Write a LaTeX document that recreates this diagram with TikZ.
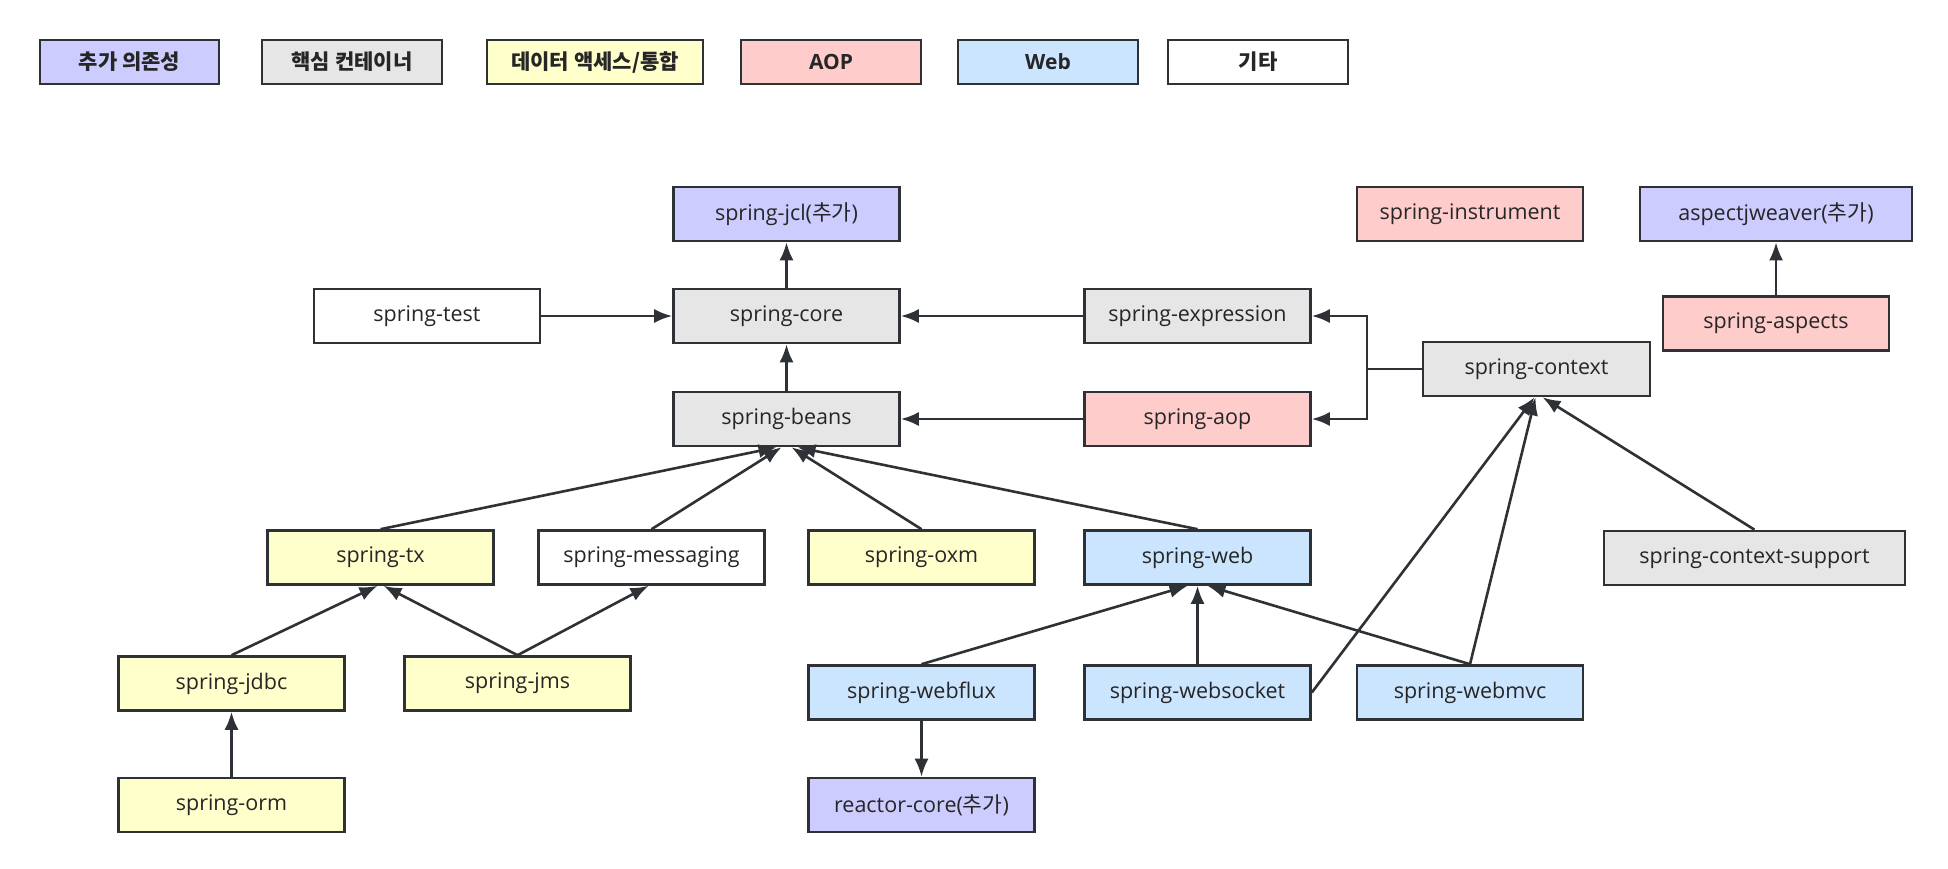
\documentclass[tikz,border=0pt]{standalone}
\usepackage{fontspec}
\setmainfont{Open Sans}
\newfontfamily\kr{Noto Sans CJK KR}
\usetikzlibrary{arrows.meta}
\definecolor{cpurple}{HTML}{CCCCFF}
\definecolor{cgray}{HTML}{E6E6E6}
\definecolor{cyellow}{HTML}{FFFFCC}
\definecolor{cpink}{HTML}{FFCCCC}
\definecolor{cblue}{HTML}{CCE5FF}
\definecolor{cline}{HTML}{2E3236}
\definecolor{ctext}{HTML}{262626}
\tikzset{
  box/.style={draw=cline, line width=2.6pt, minimum width=226pt, minimum height=54pt,
    inner sep=0pt, text=ctext, font=\fontsize{21.5}{24}\selectfont},
  leg/.style={draw=cline, line width=1.8pt, minimum width=180pt, minimum height=44pt,
    inner sep=0pt, text=ctext, font=\fontsize{21}{24}\selectfont\bfseries},
  arr/.style={draw=cline, line width=2.6pt, -{Latex[length=18pt,width=14pt]}},
  ln/.style={draw=cline, line width=2.6pt},
}
\begin{document}
\begin{tikzpicture}[x=1pt,y=-1pt]
\useasboundingbox (0,0) rectangle (1948,868);
\fill[white] (0,0) rectangle (1948,868);
% legend
\node[leg, fill=cpurple, minimum width=179pt] (l1) at (129.5,62) {\kr 추가 의존성};
\node[leg, fill=cgray] (l2) at (352,62) {\kr 핵심 컨테이너};
\node[leg, fill=cyellow, minimum width=216pt] (l3) at (595,62) {\kr 데이터 액세스/통합};
\node[leg, fill=cpink] (l4) at (831,62) {AOP};
\node[leg, fill=cblue] (l5) at (1048,62) {Web};
\node[leg, fill=white] (l6) at (1258,62) {\kr 기타};
% nodes
\node[box, fill=cpurple] (jcl) at (786.5,214) {spring-jcl({\kr 추가})};
\node[box, fill=white] (test) at (427,316) {spring-test};
\node[box, fill=cgray] (core) at (786.5,316) {spring-core};
\node[box, fill=cgray] (expr) at (1197.5,316) {spring-expression};
\node[box, fill=cgray] (beans) at (786.5,419) {spring-beans};
\node[box, fill=cpink] (aop) at (1197.5,419) {spring-aop};
\node[box, fill=cpink] (instr) at (1470,214) {spring-instrument};
\node[box, fill=cpurple, minimum width=272pt] (weaver) at (1776,214) {aspectjweaver({\kr 추가})};
\node[box, fill=cpink] (aspects) at (1776,323.5) {spring-aspects};
\node[box, fill=cgray, minimum width=227pt] (context) at (1536.5,369) {spring-context};
\node[box, fill=cgray, minimum width=301pt] (support) at (1754.5,558) {spring-context-support};
\node[box, fill=cyellow] (tx) at (380.5,557.5) {spring-tx};
\node[box, fill=white] (msg) at (651.5,557.5) {spring-messaging};
\node[box, fill=cyellow] (oxm) at (921.5,557.5) {spring-oxm};
\node[box, fill=cblue] (web) at (1197.5,557.5) {spring-web};
\node[box, fill=cyellow] (jdbc) at (231.5,683.5) {spring-jdbc};
\node[box, fill=cyellow] (jms) at (517.5,683.5) {spring-jms};
\node[box, fill=cyellow] (orm) at (231.5,805) {spring-orm};
\node[box, fill=cblue] (webflux) at (921.5,692.5) {spring-webflux};
\node[box, fill=cblue] (websocket) at (1197.5,692.5) {spring-websocket};
\node[box, fill=cblue] (webmvc) at (1470,692.5) {spring-webmvc};
\node[box, fill=cpurple] (reactor) at (921.5,805) {reactor-core({\kr 추가})};
\coordinate (j) at (1367,369);
% edges
\draw[arr] (core) -- (jcl);
\draw[arr] (test) -- (core);
\draw[arr] (beans) -- (core);
\draw[arr] (expr) -- (core);
\draw[arr] (aop) -- (beans);
\draw[ln] (context.west) -- (j);
\draw[arr] (j) |- (expr.east);
\draw[arr] (j) |- (aop.east);
\draw[arr] (aspects) -- (weaver);
\draw[arr] (tx.north) -- ([xshift=-10pt]beans.south);
\draw[arr] (msg.north) -- ([xshift=-5pt]beans.south);
\draw[arr] (oxm.north) -- ([xshift=5pt]beans.south);
\draw[arr] (web.north) -- ([xshift=11pt]beans.south);
\draw[arr] (jdbc.north) -- ([xshift=-3pt]tx.south);
\draw[arr] (jms.north) -- ([xshift=3pt]tx.south);
\draw[arr] (jms.north) -- ([xshift=-3pt]msg.south);
\draw[arr] (orm) -- (jdbc);
\draw[arr] (webflux) -- (reactor);
\draw[arr] (webflux.north) -- ([xshift=-10pt]web.south);
\draw[arr] (websocket) -- (web);
\draw[arr] (webmvc.north) -- ([xshift=10pt]web.south);
\draw[arr] (websocket.east) -- ([xshift=-2pt]context.south);
\draw[arr] (webmvc.north) -- ([xshift=-1pt]context.south);
\draw[arr] (support.north) -- ([xshift=6pt]context.south);
\end{tikzpicture}
\end{document}
